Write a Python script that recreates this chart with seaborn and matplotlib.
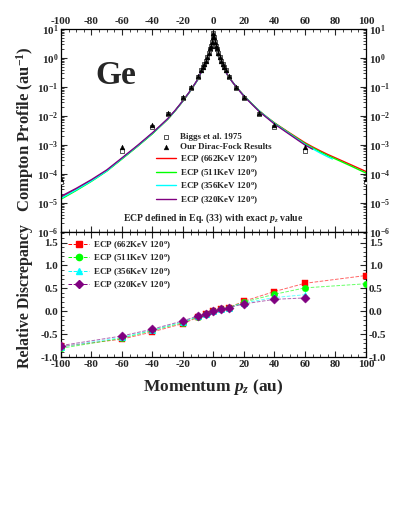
import matplotlib
matplotlib.use("Agg")
import matplotlib.pyplot as plt
import seaborn as sns
from matplotlib import ticker
from matplotlib.lines import Line2D

# ---- ECP curves (top panel) ----
pz_full = [-100, -90, -80, -70, -60, -50, -40, -35, -30, -25, -20, -15, -10, -8, -6, -5, -4, -3, -2, -1, -0.5,
           0, 0.5, 1, 2, 3, 4, 5, 6, 8, 10, 15, 20, 25, 30, 35, 40, 50, 60, 65, 70, 75, 80, 90, 100]
ecp_662 = [1.55e-5, 3.0e-5, 6.0e-5, 1.3e-4, 3.4e-4, 9.0e-4, 2.5e-3, 4.4e-3, 7.8e-3, 0.0155, 0.033, 0.075, 0.19,
           0.33, 0.5, 0.65, 0.88, 1.25, 1.85, 3.2, 4.8,
           6.8, 4.9, 3.3, 1.9, 1.25, 0.9, 0.68, 0.54, 0.34, 0.22, 0.1, 0.05, 0.027, 0.015, 0.0092, 0.0058,
           2.6e-3, 1.2e-3, 8.6e-4, 6.3e-4, 4.7e-4, 3.6e-4, 2.1e-4, 1.22e-4]
ecp_511 = [1.35e-5, 2.7e-5, 5.6e-5, 1.25e-4, 3.3e-4, 8.8e-4, 2.45e-3, 4.35e-3, 7.7e-3, 0.0154, 0.033, 0.075, 0.19,
           0.33, 0.5, 0.65, 0.88, 1.25, 1.85, 3.2, 4.8,
           6.8, 4.9, 3.3, 1.9, 1.25, 0.9, 0.68, 0.54, 0.34, 0.22, 0.1, 0.05, 0.027, 0.015, 0.0091, 0.0057,
           2.5e-3, 1.12e-3, 8.0e-4, 5.8e-4, 4.3e-4, 3.3e-4, 1.9e-4, 1.08e-4]
pz_356 = [-100, -90, -80, -70, -60, -50, -40, -35, -30, -25, -20, -15, -10, -8, -6, -5, -4, -3, -2, -1, -0.5,
          0, 0.5, 1, 2, 3, 4, 5, 6, 8, 10, 15, 20, 25, 30, 35, 40, 50, 60, 65, 70, 75, 78]
ecp_356 = [1.45e-5, 2.85e-5, 5.8e-5, 1.28e-4, 3.45e-4, 9.1e-4, 2.55e-3, 4.45e-3, 7.9e-3, 0.0156, 0.0335, 0.076, 0.19,
           0.33, 0.5, 0.65, 0.88, 1.25, 1.85, 3.2, 4.8,
           6.9, 4.9, 3.3, 1.9, 1.25, 0.9, 0.68, 0.54, 0.34, 0.22, 0.1, 0.049, 0.0265, 0.0147, 0.009, 0.0055,
           2.4e-3, 1.05e-3, 7.4e-4, 5.3e-4, 3.9e-4, 3.3e-4]
pz_320 = [-100, -90, -80, -70, -60, -50, -40, -35, -30, -25, -20, -15, -10, -8, -6, -5, -4, -3, -2, -1, -0.5,
          0, 0.5, 1, 2, 3, 4, 5, 6, 8, 10, 15, 20, 25, 30, 35, 40, 50, 60, 65]
ecp_320 = [1.7e-5, 3.2e-5, 6.4e-5, 1.38e-4, 3.6e-4, 9.5e-4, 2.65e-3, 4.6e-3, 8.1e-3, 0.016, 0.034, 0.077, 0.195,
           0.34, 0.5, 0.66, 0.89, 1.26, 1.87, 3.25, 4.9,
           7.0, 5.0, 3.35, 1.9, 1.25, 0.9, 0.68, 0.54, 0.34, 0.22, 0.099, 0.048, 0.026, 0.0143, 0.0087, 0.0053,
           2.3e-3, 1.0e-3, 7.2e-4]

# ---- reference points (symmetric in pz) ----
pz_pts = [0, 0.5, 1, 1.5, 2, 3, 4, 5, 6, 7, 8, 10, 15, 20, 30, 40, 60, 100]
biggs = [7.3, 5.2, 3.6, 2.6, 2.1, 1.45, 1.05, 0.78, 0.6, 0.48, 0.39, 0.23, 0.094, 0.043, 0.0115, 0.0043,
         6.4e-4, 5.3e-5]
dirac_fock = [7.5, 5.3, 3.7, 2.65, 2.15, 1.48, 1.07, 0.8, 0.62, 0.5, 0.4, 0.235, 0.098, 0.046, 0.0128, 0.0048,
              8.4e-4, 6.6e-5]

# ---- relative discrepancy (bottom panel) ----
pz_disc = [-100, -60, -40, -20, -10, -5, 0, 5, 10, 20, 40, 60, 100]
disc_662 = [-0.77, -0.61, -0.45, -0.27, -0.13, -0.07, 0.0, 0.04, 0.08, 0.22, 0.43, 0.61, 0.78]
disc_511 = [-0.81, -0.59, -0.42, -0.25, -0.12, -0.06, 0.0, 0.04, 0.08, 0.20, 0.37, 0.51, 0.60]
pz_disc_short = [-100, -60, -40, -20, -10, -5, 0, 5, 10, 20, 40, 60]
disc_356 = [-0.78, -0.57, -0.41, -0.23, -0.11, -0.06, 0.0, 0.04, 0.08, 0.18, 0.30, 0.36]
disc_320 = [-0.75, -0.54, -0.39, -0.21, -0.10, -0.05, 0.0, 0.04, 0.08, 0.16, 0.26, 0.29]

labels = ["ECP (662KeV 120$^{\\mathrm{o}}$)", "ECP (511KeV 120$^{\\mathrm{o}}$)",
          "ECP (356KeV 120$^{\\mathrm{o}}$)", "ECP (320KeV 120$^{\\mathrm{o}}$)"]
colors = ["#ff0000", "#00ff00", "#00ffff", "#800080"]
markers = ["s", "o", "^", "D"]

sns.set_style("ticks")
plt.rcParams['font.family'] = ['Liberation Serif', 'DejaVu Serif']
plt.rcParams['font.weight'] = 'bold'
plt.rcParams['axes.labelweight'] = 'bold'
plt.rcParams['axes.unicode_minus'] = False
plt.rcParams['mathtext.fontset'] = 'custom'
plt.rcParams['mathtext.rm'] = 'Liberation Serif:bold'
plt.rcParams['mathtext.it'] = 'Liberation Serif:italic:bold'
plt.rcParams['mathtext.bf'] = 'Liberation Serif:bold'

fig = plt.figure(figsize=(4.11, 5.32), dpi=100)
ax1 = fig.add_axes([0.1484, 0.5639, 0.742, 0.3816])
ax2 = fig.add_axes([0.1484, 0.3289, 0.742, 0.2350])

# top panel
pts_x = [-p for p in pz_pts[::-1]] + pz_pts[1:]
biggs_y = biggs[::-1] + biggs[1:]
df_y = dirac_fock[::-1] + dirac_fock[1:]
sns.scatterplot(x=pts_x, y=biggs_y, marker="s", s=12, facecolor="white", edgecolor="#555555",
                linewidth=0.7, ax=ax1, zorder=5, label="Biggs et al. 1975")
sns.scatterplot(x=pts_x, y=df_y, marker="^", s=12, color="black", edgecolor="black",
                linewidth=0.3, ax=ax1, zorder=6, label="Our Dirac-Fock Results")
for px, py, c, lab in zip([pz_full, pz_full, pz_356, pz_320], [ecp_662, ecp_511, ecp_356, ecp_320],
                          colors, labels):
    sns.lineplot(x=px, y=py, color=c, linewidth=1.0, estimator=None, sort=False, ax=ax1, label=lab)

ax1.set_yscale("log")
ax1.set_xlim(-100, 100)
ax1.set_ylim(1e-6, 10)
ax1.xaxis.set_major_locator(ticker.MultipleLocator(20))
ax1.xaxis.set_minor_locator(ticker.MultipleLocator(5))
ax1.yaxis.set_major_locator(ticker.LogLocator(base=10, numticks=10))
ax1.yaxis.set_minor_locator(ticker.LogLocator(base=10, subs=range(2, 10), numticks=20))
ax1.yaxis.set_minor_formatter(ticker.NullFormatter())
ax1.tick_params(which="both", direction="in", top=True, right=True, labeltop=True, labelbottom=False,
                labelright=True, labelsize=8, pad=2)
ax1.tick_params(which="major", length=4, width=0.8)
ax1.tick_params(which="minor", length=2, width=0.6)
ax1.set_xlabel("")
ax1.set_ylabel("")

h, l = ax1.get_legend_handles_labels()
ax1.legend(h, l, loc="upper left", bbox_to_anchor=(0.29, 0.52), frameon=False, fontsize=6.5,
           handlelength=2.2, handletextpad=0.5, labelspacing=0.22, borderpad=0.2)
ax1.text(0.18, 0.77, "Ge", transform=ax1.transAxes, fontsize=24, fontweight="bold",
         ha="center", va="center")
ax1.text(0.5, 0.07, "ECP defined in Eq. (33) with exact $p_z$ value", transform=ax1.transAxes,
         fontsize=7, fontweight="bold", ha="center", va="center")

# bottom panel
handles = []
for px, py, c, m, lab in zip([pz_disc, pz_disc, pz_disc_short, pz_disc_short],
                             [disc_662, disc_511, disc_356, disc_320], colors, markers, labels):
    sns.lineplot(x=px, y=py, color=c, linewidth=0.7, linestyle="--", alpha=0.6, estimator=None,
                 sort=False, ax=ax2, legend=False)
    sns.scatterplot(x=px, y=py, color=c, marker=m, s=22, edgecolor=c, linewidth=0.3, ax=ax2,
                    zorder=5, legend=False)
    handles.append(Line2D([], [], color=c, marker=m, markersize=4.5, linestyle="--", linewidth=0.7,
                          label=lab))
ax2.set_xlim(-100, 100)
ax2.set_ylim(-1.0, 1.73)
ax2.xaxis.set_major_locator(ticker.MultipleLocator(20))
ax2.xaxis.set_minor_locator(ticker.MultipleLocator(5))
ax2.yaxis.set_major_locator(ticker.MultipleLocator(0.5))
ax2.yaxis.set_minor_locator(ticker.MultipleLocator(0.1))
ax2.yaxis.set_major_formatter(ticker.FormatStrFormatter("%.1f"))
ax2.tick_params(which="both", direction="in", top=True, right=True, labelright=True, labelsize=8, pad=2)
ax2.tick_params(which="major", length=4, width=0.8)
ax2.tick_params(which="minor", length=2, width=0.6)
ax2.set_xlabel("")
ax2.set_ylabel("")
ax2.legend(handles=handles, loc="upper left", frameon=False, fontsize=6.5, handlelength=2.3,
           handletextpad=0.5, labelspacing=0.2, borderpad=0.3)

for ax in (ax1, ax2):
    for sp in ax.spines.values():
        sp.set_linewidth(0.9)
        sp.set_color("black")

fig.text(0.06, 0.757, "Compton Profile (au$^{-1}$)", rotation=90, ha="center", va="center",
         fontsize=12, fontweight="bold")
fig.text(0.06, 0.443, "Relative Discrepancy", rotation=90, ha="center", va="center",
         fontsize=11.5, fontweight="bold")
fig.text(0.518, 0.272, "Momentum $p_z$ (au)", ha="center", va="center", fontsize=12.5,
         fontweight="bold")

fig.savefig("out.png", dpi=100)
